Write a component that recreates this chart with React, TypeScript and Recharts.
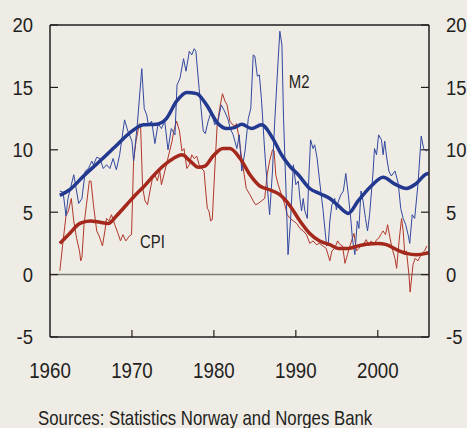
import React from "react";
import { LineChart, Line, XAxis, YAxis, ReferenceLine, ReferenceDot } from "recharts";

// Year ticks and value ticks
const yearTicks = [1960, 1970, 1980, 1990, 2000];
const valueTicks = [-5, 0, 5, 10, 15, 20];

// M2, twelve-month growth (thin line): [year, percent]
const m2Monthly: [number, number][] = [
  [1961.2, 6.7], [1961.6, 6.6], [1961.95, 4.7], [1962.2, 6.1], [1962.9, 8.0], [1963.5, 5.7],
  [1963.9, 6.1], [1964.3, 8.3], [1964.7, 8.5], [1965.1, 9.1], [1965.3, 8.8], [1965.7, 9.4],
  [1966.1, 9.3], [1966.5, 8.5], [1966.9, 8.8], [1967.3, 8.5], [1967.7, 9.3], [1968.1, 8.4],
  [1968.5, 9.6], [1969.1, 12.4], [1969.5, 11.5], [1970.0, 10.7], [1970.2, 9.1], [1970.65, 12.0],
  [1971.2, 16.5], [1971.5, 13.3], [1971.8, 12.8], [1972.0, 12.0], [1972.4, 12.3], [1972.8, 10.5],
  [1973.2, 12.1], [1973.6, 11.7], [1974.0, 12.3], [1974.4, 10.0], [1974.8, 11.7], [1975.25, 11.2],
  [1975.5, 15.2], [1975.85, 15.7], [1976.3, 17.3], [1976.6, 16.3], [1977.0, 17.9], [1977.3, 17.6],
  [1977.6, 18.1], [1977.8, 17.9], [1978.2, 14.9], [1978.7, 11.5], [1978.95, 11.3], [1979.3, 12.3],
  [1979.7, 13.1], [1980.1, 12.0], [1980.5, 12.3], [1980.9, 13.6], [1981.3, 13.1], [1981.75, 12.4],
  [1982.0, 11.7], [1982.35, 11.2], [1982.8, 10.1], [1983.1, 11.2], [1983.4, 8.3], [1983.8, 9.9],
  [1984.2, 12.5], [1984.5, 13.3], [1984.8, 17.6], [1985.0, 17.5], [1985.3, 15.9], [1985.55, 16.0],
  [1985.8, 14.1], [1986.2, 9.9], [1986.5, 7.2], [1986.8, 4.8], [1987.15, 8.3], [1987.4, 12.0],
  [1987.85, 17.3], [1988.05, 19.5], [1988.3, 18.4], [1988.5, 12.5], [1988.8, 6.7], [1989.05, 1.6],
  [1989.35, 4.3], [1989.7, 8.8], [1990.0, 7.2], [1990.3, 7.5], [1990.5, 6.1], [1990.7, 5.1],
  [1990.9, 6.1], [1991.1, 5.1], [1991.4, 4.5], [1991.6, 8.0], [1991.8, 10.8], [1992.1, 10.1],
  [1992.3, 10.4], [1992.6, 9.3], [1992.9, 7.5], [1993.3, 5.3], [1993.75, 2.3], [1993.95, 2.4],
  [1994.15, 4.3], [1994.4, 5.6], [1994.75, 6.1], [1994.95, 5.2], [1995.2, 5.9], [1995.5, 6.4],
  [1995.8, 6.7], [1996.1, 8.1], [1996.4, 6.4], [1996.7, 4.5], [1996.9, 2.9], [1997.2, 1.6],
  [1997.5, 4.3], [1997.7, 3.7], [1997.95, 6.7], [1998.2, 5.9], [1998.5, 4.5], [1998.75, 3.5],
  [1999.0, 4.8], [1999.4, 8.0], [1999.6, 10.1], [1999.85, 9.6], [2000.1, 11.2], [2000.45, 10.8],
  [2000.65, 9.6], [2000.85, 10.7], [2001.06, 9.5], [2001.35, 8.3], [2001.65, 7.9], [2002.1, 8.3],
  [2002.5, 7.3], [2002.8, 5.3], [2003.1, 4.5], [2003.4, 4.0], [2003.7, 3.2], [2003.9, 2.5],
  [2004.2, 4.8], [2004.5, 4.5], [2004.9, 7.2], [2005.3, 11.1], [2005.6, 10.1], [2005.9, 9.9],
  [2006.1, 10.0],
];

// M2, smoothed trend (thick line)
const m2Trend: [number, number][] = [
  [1961.2, 6.35], [1962.4, 6.8], [1964.1, 7.9], [1966.1, 9.1], [1968.1, 10.35], [1970.0, 11.5],
  [1971.4, 12.0], [1973.0, 12.05], [1974.2, 12.5], [1975.45, 13.9], [1976.7, 14.6], [1977.9, 14.5],
  [1979.1, 13.6], [1980.5, 12.1], [1981.55, 11.7], [1982.6, 11.8], [1983.4, 12.05], [1984.6, 11.7],
  [1985.8, 12.0], [1987.2, 10.9], [1988.25, 9.6], [1989.25, 8.7], [1990.3, 8.0], [1991.7, 6.9],
  [1992.9, 6.5], [1994.15, 6.1], [1995.2, 5.5], [1996.4, 4.9], [1997.6, 5.9], [1999.2, 7.1],
  [2000.65, 7.8], [2002.1, 7.25], [2003.5, 6.9], [2004.7, 7.3], [2005.9, 8.05], [2006.2, 8.1],
];

// CPI, twelve-month rise (thin line)
const cpiMonthly: [number, number][] = [
  [1961.2, 0.3], [1961.6, 2.7], [1961.95, 4.7], [1962.25, 5.1], [1962.6, 6.1], [1962.9, 4.3],
  [1963.25, 2.9], [1963.6, 1.9], [1963.75, 1.1], [1963.9, 1.4], [1964.15, 4.0], [1964.45, 5.6],
  [1964.8, 7.5], [1965.0, 7.5], [1965.3, 5.6], [1965.7, 3.5], [1966.0, 3.1], [1966.4, 2.3],
  [1966.7, 3.5], [1966.9, 4.5], [1967.2, 4.3], [1967.5, 4.8], [1967.9, 4.0], [1968.3, 3.3],
  [1968.6, 2.7], [1968.9, 3.2], [1969.25, 2.7], [1969.7, 3.1], [1969.95, 3.2], [1970.2, 9.1],
  [1970.5, 10.7], [1970.9, 12.1], [1971.05, 12.0], [1971.3, 7.0], [1971.6, 5.9], [1971.9, 5.6],
  [1972.2, 6.7], [1972.5, 7.7], [1972.8, 8.0], [1973.1, 7.5], [1973.4, 8.3], [1973.6, 7.2],
  [1973.9, 8.0], [1974.2, 8.8], [1974.6, 9.9], [1974.9, 10.7], [1975.1, 11.5], [1975.45, 12.3],
  [1975.8, 11.5], [1976.1, 9.9], [1976.35, 10.1], [1976.7, 8.5], [1977.0, 8.8], [1977.3, 9.6],
  [1977.6, 9.3], [1977.9, 9.5], [1978.2, 8.8], [1978.5, 8.5], [1978.8, 8.3], [1979.0, 6.7],
  [1979.2, 5.3], [1979.4, 5.1], [1979.6, 4.3], [1979.8, 4.4], [1980.1, 8.3], [1980.4, 12.0],
  [1980.7, 13.3], [1981.05, 14.5], [1981.35, 13.9], [1981.6, 13.6], [1981.95, 12.3], [1982.3, 12.0],
  [1982.6, 11.9], [1982.75, 12.1], [1983.0, 11.2], [1983.4, 9.3], [1983.7, 8.0], [1983.95, 6.9],
  [1984.4, 6.4], [1984.8, 5.9], [1985.1, 5.6], [1985.4, 5.7], [1985.8, 5.9], [1986.2, 6.1],
  [1986.5, 8.0], [1986.8, 9.1], [1987.15, 10.0], [1987.35, 9.9], [1987.55, 8.0], [1987.85, 7.2],
  [1988.25, 6.4], [1988.65, 5.6], [1988.95, 4.8], [1989.3, 4.5], [1989.7, 4.3], [1990.1, 4.1],
  [1990.5, 3.7], [1990.9, 3.5], [1991.3, 3.2], [1991.7, 2.5], [1992.1, 2.7], [1992.5, 2.4],
  [1992.9, 2.5], [1993.3, 2.3], [1993.7, 2.1], [1994.15, 1.1], [1994.4, 1.9], [1994.75, 2.1],
  [1995.1, 2.7], [1995.4, 2.4], [1995.7, 2.3], [1996.0, 0.9], [1996.3, 1.6], [1996.6, 2.3],
  [1996.9, 2.9], [1997.1, 3.3], [1997.4, 1.9], [1997.7, 2.1], [1998.0, 2.4], [1998.3, 2.5],
  [1998.6, 2.8], [1998.9, 2.3], [1999.2, 2.7], [1999.55, 2.4], [1999.85, 2.8], [2000.1, 2.9],
  [2000.45, 3.3], [2000.65, 3.5], [2000.95, 3.2], [2001.2, 4.0], [2001.5, 2.9], [2001.75, 2.1],
  [2002.1, 1.3], [2002.3, 0.5], [2002.6, 2.7], [2002.9, 4.5], [2003.1, 3.5], [2003.3, 1.6],
  [2003.5, 1.9], [2003.8, 0.0], [2003.95, -1.4], [2004.3, 0.8], [2004.55, 1.3], [2004.9, 1.1],
  [2005.3, 1.6], [2005.7, 1.9], [2006.0, 2.3],
];

// CPI, smoothed trend (thick line)
const cpiTrend: [number, number][] = [
  [1961.2, 2.5], [1962.4, 3.3], [1963.65, 4.1], [1964.9, 4.3], [1966.1, 4.2], [1967.1, 4.1],
  [1968.1, 4.7], [1969.35, 5.6], [1970.6, 6.5], [1971.6, 7.15], [1972.6, 7.9], [1973.8, 8.7],
  [1975.05, 9.3], [1976.1, 9.6], [1977.1, 9.1], [1978.1, 8.6], [1978.9, 8.7], [1979.9, 9.5],
  [1981.1, 10.1], [1981.95, 10.1], [1983.2, 9.3], [1984.4, 8.0], [1985.6, 7.1], [1986.8, 6.8],
  [1988.05, 6.4], [1989.3, 5.5], [1990.5, 4.3], [1991.7, 3.3], [1992.9, 2.7], [1994.15, 2.4],
  [1995.2, 2.1], [1996.4, 2.1], [1997.6, 2.3], [1998.8, 2.45], [2000.0, 2.5], [2001.05, 2.4],
  [2002.3, 2.0], [2003.5, 1.7], [2004.7, 1.6], [2005.9, 1.7], [2006.2, 1.75],
];

const seriesLabels = { m2: "M2", cpi: "CPI" };
const sourceText = "Sources: Statistics Norway and Norges Bank";

const toRows = (pairs: [number, number][]) => pairs.map(([x, v]) => ({ x, v }));

const INK = "#231f20";
const FONT = "'Liberation Sans', Arial, Helvetica, sans-serif";
const BLUE = "#22398f";
const BLUE_THIN = "#3049a0";
const RED = "#a4281b";
const RED_THIN = "#b0382a";
const BG = "#efebe5";

const LeftTick = (props: any) => {
  const { x, y, payload } = props;
  return (
    <g>
      <line x1={x} x2={x + 8} y1={y} y2={y} stroke={INK} strokeWidth={1.2} />
      <text
        transform={`translate(${x - 17},${y + 7.4}) scale(0.88,1)`}
        textAnchor="end"
        fontSize={21}
        fontFamily={FONT}
        fill={INK}
      >
        {payload.value}
      </text>
    </g>
  );
};

const RightTick = (props: any) => {
  const { x, y, payload } = props;
  return (
    <g>
      <line x1={x} x2={x - 8} y1={y} y2={y} stroke={INK} strokeWidth={1.2} />
      <text
        transform={`translate(${x + 17},${y + 7.4}) scale(0.88,1)`}
        textAnchor="start"
        fontSize={21}
        fontFamily={FONT}
        fill={INK}
      >
        {payload.value}
      </text>
    </g>
  );
};

const BottomTick = (props: any) => {
  const { x, y, payload } = props;
  return (
    <g>
      {payload.value !== 1960 && (
        <line x1={x} x2={x} y1={y} y2={y - 7} stroke={INK} strokeWidth={1.2} />
      )}
      <text
        transform={`translate(${x},${y + 41}) scale(0.85,1)`}
        textAnchor="middle"
        fontSize={22}
        fontFamily={FONT}
        fill={INK}
      >
        {payload.value}
      </text>
    </g>
  );
};

const seriesLabel = (text: string) => (props: any) => {
  const vb = props.viewBox || {};
  return (
    <text
      transform={`translate(${vb.x},${vb.y}) scale(0.85,1)`}
      textAnchor="start"
      fontSize={17.5}
      fontFamily={FONT}
      fill={INK}
    >
      {text}
    </text>
  );
};

export default function App() {
  return (
    <div
      style={{
        position: "absolute",
        left: 0,
        top: 0,
        width: 467,
        height: 428,
        background: BG,
        overflow: "hidden",
      }}
    >
      <LineChart width={467} height={428} margin={{ top: 25, right: 0, bottom: 0, left: 0 }}>
        <XAxis
          dataKey="x"
          type="number"
          domain={[1960, 2006.25]}
          ticks={yearTicks}
          allowDataOverflow
          height={91}
          tickSize={0}
          tickMargin={0}
          tickLine={false}
          axisLine={{ stroke: INK, strokeWidth: 1.5 }}
          tick={<BottomTick />}
          interval={0}
        />
        <YAxis
          yAxisId="left"
          type="number"
          domain={[-5, 20]}
          ticks={valueTicks}
          allowDataOverflow
          width={50}
          tickSize={0}
          tickMargin={0}
          tickLine={false}
          axisLine={{ stroke: INK, strokeWidth: 1.5 }}
          tick={<LeftTick />}
          interval={0}
        />
        <YAxis
          yAxisId="right"
          orientation="right"
          type="number"
          domain={[-5, 20]}
          ticks={valueTicks}
          allowDataOverflow
          width={38}
          tickSize={0}
          tickMargin={0}
          tickLine={false}
          axisLine={{ stroke: INK, strokeWidth: 1.5 }}
          tick={<RightTick />}
          interval={0}
        />
        <ReferenceLine yAxisId="left" y={20} stroke={INK} strokeWidth={1.5} />
        <ReferenceLine yAxisId="left" y={0} stroke="#7b7876" strokeWidth={1.5} />
        <Line
          yAxisId="left"
          data={toRows(cpiMonthly)}
          dataKey="v"
          type="linear"
          stroke={RED_THIN}
          strokeWidth={1}
          dot={false}
          isAnimationActive={false}
        />
        <Line
          yAxisId="left"
          data={toRows(m2Monthly)}
          dataKey="v"
          type="linear"
          stroke={BLUE_THIN}
          strokeWidth={1}
          dot={false}
          isAnimationActive={false}
        />
        <Line
          yAxisId="left"
          data={toRows(cpiTrend)}
          dataKey="v"
          type="monotone"
          stroke={RED}
          strokeWidth={3.5}
          dot={false}
          isAnimationActive={false}
        />
        <Line
          yAxisId="left"
          data={toRows(m2Trend)}
          dataKey="v"
          type="monotone"
          stroke={BLUE}
          strokeWidth={3.5}
          dot={false}
          isAnimationActive={false}
        />
        <ReferenceDot
          yAxisId="left"
          x={1989.15}
          y={14.96}
          r={0}
          stroke="none"
          fill="none"
          label={seriesLabel(seriesLabels.m2)}
        />
        <ReferenceDot
          yAxisId="left"
          x={1970.98}
          y={2.1}
          r={0}
          stroke="none"
          fill="none"
          label={seriesLabel(seriesLabels.cpi)}
        />
      </LineChart>
      <svg
        width={467}
        height={428}
        style={{ position: "absolute", left: 0, top: 0, pointerEvents: "none" }}
      >
        <text
          transform="translate(38,424.5) scale(0.82,1)"
          fontSize={20.5}
          fontFamily={FONT}
          fill={INK}
        >
          {sourceText}
        </text>
      </svg>
    </div>
  );
}
